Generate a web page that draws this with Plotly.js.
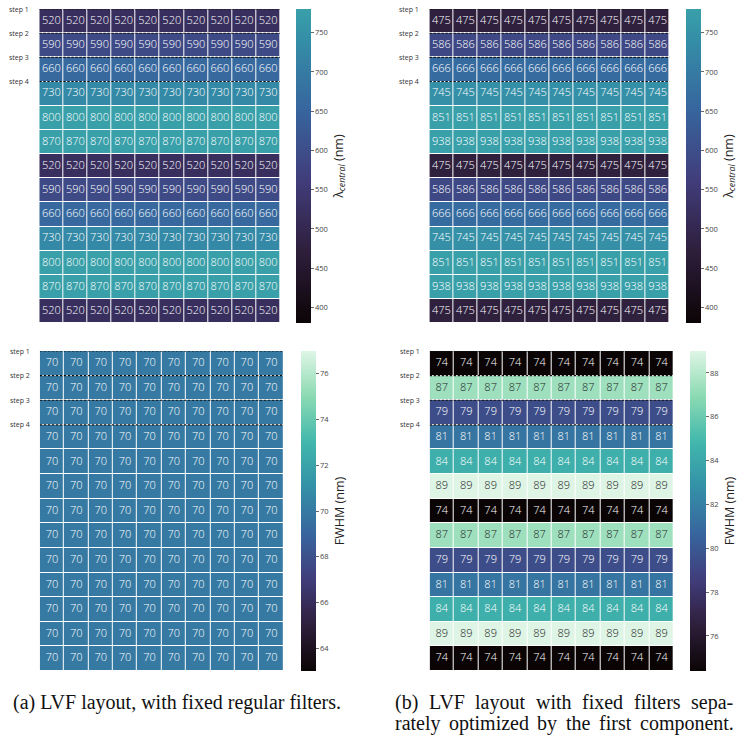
<!DOCTYPE html>
<html>
<head>
<meta charset="utf-8">
<script src="https://cdn.plot.ly/plotly-3.0.1.min.js"></script>
<style>html,body{margin:0;padding:0;background:#fff;}#chart{width:738px;height:742px;}</style>
</head>
<body>
<div id="chart"></div>
<script>
// ---------------- data ----------------
const nCols = 10;
const lambdaA = [520, 590, 660, 730, 800, 870, 520, 590, 660, 730, 800, 870, 520];
const lambdaB = [475, 586, 666, 745, 851, 938, 475, 586, 666, 745, 851, 938, 475];
const fwhmA = [70, 70, 70, 70, 70, 70, 70, 70, 70, 70, 70, 70, 70];
// shown rounded in the cells; the decimals are estimated from the cell colours
const fwhmB = [74.4, 87.4, 79.4, 81.4, 84.4, 89.0, 74.4, 87.4, 79.4, 81.4, 84.4, 89.0, 74.4];
const stepLabels = ['step 1', 'step 2', 'step 3', 'step 4'];
const lambdaTicks = [400, 450, 500, 550, 600, 650, 700, 750];
const fwhmATicks = [64, 66, 68, 70, 72, 74, 76];
const fwhmBTicks = [76, 78, 80, 82, 84, 86, 88];
const captionA = '(a) LVF layout, with fixed regular filters.';
const captionB1 = '(b) LVF layout with fixed filters sepa-';
const captionB2 = 'rately optimized by the first component.';

// ---------------- colour map (mako) ----------------
const makoStops = [
  [0.0, [11, 4, 5]], [0.143, [46, 30, 59]], [0.286, [65, 61, 123]],
  [0.429, [55, 101, 158]], [0.571, [52, 143, 167]], [0.714, [64, 183, 173]],
  [0.857, [139, 218, 178]], [1.0, [222, 245, 229]]
];
function makoAt(t) {
  t = Math.max(0, Math.min(1, t));
  for (let i = 1; i < makoStops.length; i++) {
    const [t1, c1] = makoStops[i];
    const [t0, c0] = makoStops[i - 1];
    if (t <= t1) {
      const f = (t - t0) / (t1 - t0);
      return c0.map((v, k) => v + (c1[k] - v) * f);
    }
  }
  return makoStops[makoStops.length - 1][1];
}
function rgbStr(c) { return 'rgb(' + c.map(v => Math.round(v)).join(',') + ')'; }
function buildScale(frac) {
  const out = [];
  for (let i = 0; i <= 40; i++) { const f = i / 40; out.push([f, rgbStr(makoAt(f * frac))]); }
  return out;
}
function lum(c) {
  const l = c.map(v => { v /= 255; return v <= 0.03928 ? v / 12.92 : Math.pow((v + 0.055) / 1.055, 2.4); });
  return 0.2126 * l[0] + 0.7152 * l[1] + 0.0722 * l[2];
}

const W = 738, H = 742;
const px = v => v / W;
const py = v => 1 - v / H;

const panels = [
  {vals: lambdaA, zmin: 380, zmax: 780, frac: 0.63, ticks: lambdaTicks,
   title: 'λ<sub><i>central</i></sub> (nm)', x: [39.5, 281.7], y: [9, 323.3], cbx: 297.3, cbw: 15.4},
  {vals: lambdaB, zmin: 380, zmax: 780, frac: 0.63, ticks: lambdaTicks,
   title: 'λ<sub><i>central</i></sub> (nm)', x: [431.7, 673.3], y: [9, 323.3], cbx: 689.3, cbw: 15.2},
  {vals: fwhmA, zmin: 63, zmax: 77, frac: 1.0, ticks: fwhmATicks,
   title: 'FWHM (nm)', x: [40, 285], y: [351, 671], cbx: 302.3, cbw: 15.4},
  {vals: fwhmB, zmin: Math.min(...fwhmB), zmax: Math.max(...fwhmB), frac: 1.0, ticks: fwhmBTicks,
   title: 'FWHM (nm)', x: [432, 677.3], y: [351, 671], cbx: 694, cbw: 16}
];

const FONT = 'Open Sans, Lato, sans-serif';
const traces = [];
const layout = {
  width: W, height: H,
  margin: {l: 0, r: 0, t: 0, b: 0},
  paper_bgcolor: '#ffffff', plot_bgcolor: '#ffffff',
  showlegend: false,
  shapes: [], annotations: [],
  font: {family: FONT}
};

panels.forEach((p, idx) => {
  const n = idx + 1;
  const xa = n === 1 ? 'x' : 'x' + n;
  const ya = n === 1 ? 'y' : 'y' + n;
  const xKey = n === 1 ? 'xaxis' : 'xaxis' + n;
  const yKey = n === 1 ? 'yaxis' : 'yaxis' + n;
  const nRows = p.vals.length;
  const xs = [...Array(nCols).keys()];
  const ys = [...Array(nRows).keys()];
  const z = p.vals.map(v => xs.map(() => v));
  const scale = buildScale(p.frac);

  traces.push({
    type: 'heatmap', x: xs, y: ys, z: z, xaxis: xa, yaxis: ya,
    zmin: p.zmin, zmax: p.zmax, colorscale: scale, xgap: 1, ygap: 1,
    hoverinfo: 'skip',
    colorbar: {
      x: px(p.cbx), xanchor: 'left', xref: 'paper', xpad: 0, ypad: 0,
      y: 1 - ((p.y[0] + p.y[1]) / 2) / H, yanchor: 'middle',
      len: (p.y[1] - p.y[0]) / H, lenmode: 'fraction',
      thickness: p.cbw, thicknessmode: 'pixels', outlinewidth: 0,
      tickmode: 'array', tickvals: p.ticks, ticktext: p.ticks.map(String),
      ticks: 'outside', ticklen: 3, tickwidth: 0.8, tickcolor: '#444',
      tickfont: {size: 7.5, color: '#444', family: FONT},
      title: {text: p.title, side: 'right', font: {size: 12.5, color: '#222', family: FONT}}
    }
  });

  // cell labels
  const tx = [], ty = [], tt = [], tc = [];
  p.vals.forEach((v, r) => {
    const t = (v - p.zmin) / (p.zmax - p.zmin);
    const c = makoAt(Math.max(0, Math.min(1, t)) * p.frac);
    const col = lum(c) > 0.408 ? '#262626' : '#ffffff';
    xs.forEach(cIdx => { tx.push(cIdx); ty.push(r); tt.push(String(Math.round(v))); tc.push(col); });
  });
  traces.push({
    type: 'scatter', mode: 'text', x: tx, y: ty, text: tt, xaxis: xa, yaxis: ya,
    textfont: {size: 11, color: tc, family: FONT, weight: 300}, hoverinfo: 'skip', cliponaxis: false
  });

  layout[xKey] = {domain: [px(p.x[0]), px(p.x[1])], range: [-0.5, nCols - 0.5], visible: false, anchor: ya, fixedrange: true};
  layout[yKey] = {domain: [py(p.y[1]), py(p.y[0])], range: [nRows - 0.5, -0.5], visible: false, anchor: xa, fixedrange: true};

  stepLabels.forEach((s, i) => {
    layout.shapes.push({type: 'line', xref: xa, yref: ya, x0: -0.5, x1: nCols - 0.5, y0: i - 0.5, y1: i - 0.5,
      line: {color: '#111', width: 1.1, dash: '2.5px,1.5px'}});
    layout.annotations.push({text: s, xref: xa, yref: ya, x: -0.5, y: i - 0.5, xanchor: 'right', yanchor: 'middle',
      xshift: -8, showarrow: false, font: {size: 7, color: '#333', family: FONT}});
  });
});

// ---------------- captions (caption b justified like the LaTeX original) ----------------
const CAPSIZE = 20;
const CAPFAM = 'Liberation Serif';
const CAP = {family: CAPFAM + ', Times New Roman, serif', size: CAPSIZE, color: '#111'};
const cv = document.createElement('canvas').getContext('2d');
cv.font = CAPSIZE + 'px "' + CAPFAM + '"';
function justified(line, x0, x1, yPx) {
  const words = line.split(' ');
  const widths = words.map(w => cv.measureText(w).width);
  const total = widths.reduce((a, b) => a + b, 0);
  const gap = (x1 - x0 - total) / (words.length - 1);
  let x = x0;
  words.forEach((w, i) => {
    layout.annotations.push({text: w, xref: 'paper', yref: 'paper', x: px(x), y: py(yPx),
      xanchor: 'left', yanchor: 'middle', showarrow: false, font: CAP, borderpad: 0});
    x += widths[i] + gap;
  });
}
layout.annotations.push(
  {text: captionA, xref: 'paper', yref: 'paper', x: px(178), y: py(702), xanchor: 'center', yanchor: 'middle', showarrow: false, font: CAP, borderpad: 0}
);
justified(captionB1, 396, 736, 702);
justified(captionB2, 396, 736, 723);

Plotly.newPlot('chart', traces, layout, {staticPlot: true, displayModeBar: false});
</script>
</body>
</html>
